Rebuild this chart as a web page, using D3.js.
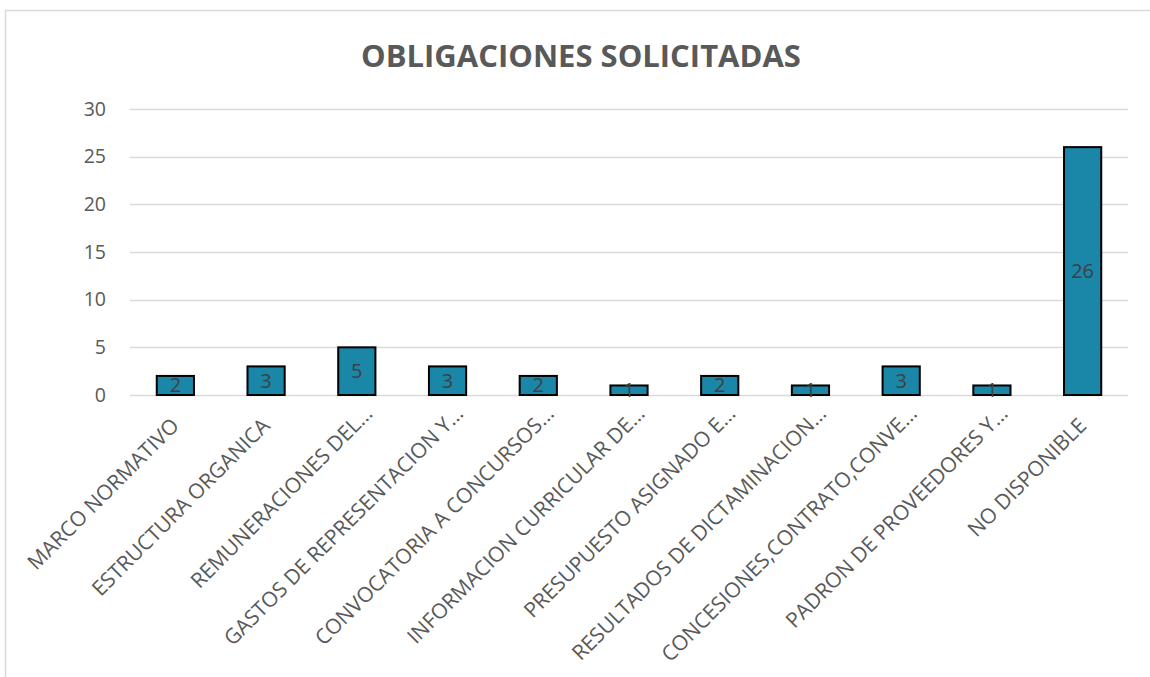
<!DOCTYPE html>
<html>
<head>
<meta charset="utf-8">
<script src="https://d3js.org/d3.v7.min.js"></script>
<style>
  body { margin: 0; background: #fff; }
  svg { display: block; font-family: "Open Sans", sans-serif; }
</style>
</head>
<body>
<svg id="chart" width="1150" height="677"></svg>
<script>
// chart data
const categories = [
  "MARCO NORMATIVO",
  "ESTRUCTURA ORGANICA",
  "REMUNERACIONES DEL…",
  "GASTOS DE REPRESENTACION Y…",
  "CONVOCATORIA A CONCURSOS…",
  "INFORMACION CURRICULAR DE…",
  "PRESUPUESTO ASIGNADO E…",
  "RESULTADOS DE DICTAMINACION…",
  "CONCESIONES,CONTRATO,CONVE…",
  "PADRON DE PROVEEDORES Y…",
  "NO DISPONIBLE"
];
const values = [2, 3, 5, 3, 2, 1, 2, 1, 3, 1, 26];
const yTicks = [0, 5, 10, 15, 20, 25, 30];
const title = "OBLIGACIONES SOLICITADAS";

const svg = d3.select("#chart");
const margin = { left: 130, right: 22, top: 109, bottom: 282 };
const width = 1150, height = 677;

// outer chart border
svg.append("rect")
    .attr("x", 5.5).attr("y", 10.5)
    .attr("width", 1160).attr("height", 680)
    .attr("fill", "none")
    .attr("stroke", "#d9d9d9")
    .attr("stroke-width", 1.5);

svg.append("text")
    .attr("x", 581).attr("y", 67)
    .attr("text-anchor", "middle")
    .attr("font-size", 31)
    .attr("font-weight", "bold")
    .attr("fill", "#595959")
    .text(title);

const x = d3.scaleBand()
    .domain(categories)
    .range([margin.left, width - margin.right])
    .paddingInner(0.59)
    .paddingOuter(0.295);

const y = d3.scaleLinear()
    .domain([0, 30])
    .range([height - margin.bottom, margin.top]);

// gridlines
svg.append("g")
    .selectAll("line")
    .data(yTicks)
    .join("line")
    .attr("x1", margin.left)
    .attr("x2", width - margin.right)
    .attr("y1", d => Math.round(y(d)) + 0.5)
    .attr("y2", d => Math.round(y(d)) + 0.5)
    .attr("stroke", "#d9d9d9")
    .attr("stroke-width", 1.5);

// y tick labels
svg.append("g")
    .selectAll("text")
    .data(yTicks)
    .join("text")
    .attr("x", 106)
    .attr("y", d => y(d))
    .attr("dy", "0.35em")
    .attr("text-anchor", "end")
    .attr("font-size", 19.5)
    .attr("fill", "#595959")
    .text(d => d);

const data = categories.map((c, i) => ({ cat: c, val: values[i] }));

// bars
svg.append("g")
    .selectAll("rect")
    .data(data)
    .join("rect")
    .attr("x", d => x(d.cat))
    .attr("y", d => y(d.val))
    .attr("width", x.bandwidth())
    .attr("height", d => y(0) - y(d.val))
    .attr("fill", "#1a86a8")
    .attr("stroke", "#000")
    .attr("stroke-width", 2);

// value labels (centered in bar)
svg.append("g")
    .selectAll("text")
    .data(data)
    .join("text")
    .attr("x", d => x(d.cat) + x.bandwidth() / 2)
    .attr("y", d => (y(d.val) + y(0)) / 2)
    .attr("dy", "0.35em")
    .attr("text-anchor", "middle")
    .attr("font-size", 20)
    .attr("fill", "#404040")
    .text(d => d.val);

// rotated category labels; truncated ones sit a bit further along
svg.append("g")
    .selectAll("text")
    .data(categories)
    .join("text")
    .attr("transform", d => `translate(${x(d) + x.bandwidth() / 2 + 5},${y(0) + 32}) rotate(-45)`)
    .attr("x", d => d.endsWith("…") ? 17 : 0)
    .attr("text-anchor", "end")
    .attr("font-size", 21)
    .attr("fill", "#595959")
    .text(d => d);
</script>
</body>
</html>
